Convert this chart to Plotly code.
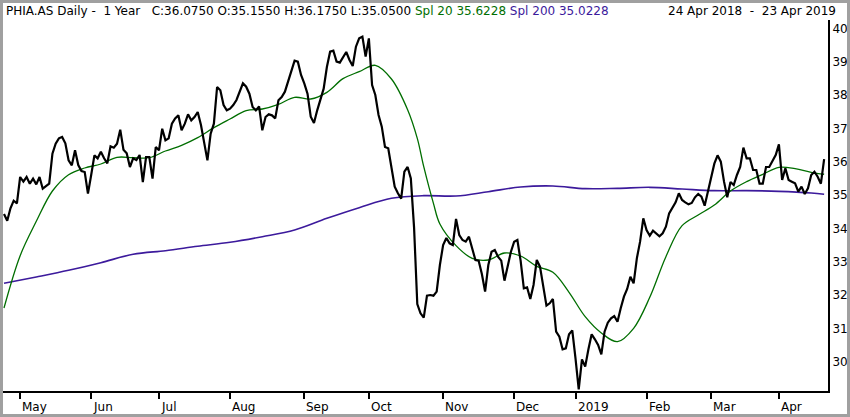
import pandas as pd
import plotly.graph_objects as go

# ---------------- data ----------------
HOLIDAYS = ["2018-05-01", "2018-12-25", "2018-12-26", "2019-01-01", "2019-04-19", "2019-04-22"]
dates = [d.strftime("%Y-%m-%d") for d in pd.bdate_range("2018-04-24", "2019-04-23")
         if d.strftime("%Y-%m-%d") not in HOLIDAYS]

close = [
    34.43, 34.23, 34.60, 34.83, 34.75, 35.54, 35.40, 35.54, 35.34, 35.49,
    35.32, 35.54, 35.19, 35.28, 35.34, 36.24, 36.54, 36.70, 36.74, 36.55,
    36.04, 35.89, 36.34, 35.90, 35.72, 35.69, 35.04, 35.60, 36.19, 36.10,
    36.30, 36.10, 35.95, 36.46, 36.42, 36.54, 36.96, 36.36, 36.25, 35.84,
    36.10, 36.05, 36.20, 35.39, 36.14, 36.14, 35.49, 36.44, 36.34, 36.99,
    36.64, 36.70, 37.14, 37.30, 37.39, 36.94, 37.14, 37.42, 37.24, 37.34,
    37.49, 37.10, 36.60, 36.04, 36.84, 37.14, 38.24, 38.14, 37.70, 37.54,
    37.59, 37.70, 37.85, 38.10, 38.35, 38.25, 38.04, 37.64, 37.54, 37.66,
    36.94, 37.34, 37.42, 37.39, 37.30, 37.84, 37.94, 38.10, 38.40, 38.75,
    39.03, 39.00, 38.60, 38.35, 38.04, 37.35, 37.16, 37.54, 37.84, 38.19,
    38.84, 39.30, 39.33, 39.00, 38.97, 39.15, 39.29, 39.05, 38.87, 39.45,
    39.70, 39.75, 39.15, 39.70, 38.30, 38.00, 37.40, 37.05, 36.44, 36.40,
    35.84, 35.25, 35.05, 34.89, 35.70, 35.84, 35.50, 34.03, 31.73, 31.45,
    31.32, 31.98, 32.00, 31.98, 32.10, 32.90, 33.50, 33.71, 33.55, 33.50,
    34.28, 33.80, 33.65, 33.60, 33.75, 33.40, 33.05, 33.03, 32.63, 32.10,
    32.90, 33.30, 33.35, 33.15, 33.03, 32.43, 32.90, 33.30, 33.60, 33.65,
    33.03, 32.20, 32.23, 31.88, 32.30, 33.05, 32.85, 32.30, 31.68, 31.75,
    31.88, 30.90, 30.75, 30.37, 30.40, 30.82, 30.94, 30.10, 29.17, 30.07,
    29.85, 30.37, 30.82, 30.67, 30.50, 30.22, 30.90, 31.17, 31.30, 31.37,
    31.20, 31.60, 31.95, 32.18, 32.55, 32.35, 33.10, 33.60, 34.30, 33.95,
    33.78, 33.93, 33.85, 33.76, 33.85, 34.05, 34.45, 34.62, 34.78, 35.05,
    34.85, 34.78, 34.72, 34.76, 34.93, 35.03, 34.95, 34.68, 35.10, 35.54,
    35.94, 36.19, 36.00, 35.40, 34.93, 35.39, 35.30, 35.60, 35.84, 36.42,
    36.10, 36.10, 35.75, 35.75, 35.34, 35.34, 35.84, 35.84, 36.00, 36.20,
    36.52, 35.45, 35.80, 35.45, 35.40, 35.35, 35.10, 35.25, 35.03, 35.20,
    35.60, 35.70, 35.55, 35.34, 36.075,
]

# 20-day average, read every 5 trading days (trading-day number)
sma20_day = [0, 5, 10, 15, 20, 25, 30, 35, 40, 45, 50, 55, 60, 65, 70, 75, 80, 85, 90, 95,
             100, 105, 110, 115, 120, 125, 128, 130, 133, 135, 140, 145, 150, 155, 160, 165,
             170, 175, 180, 185, 190, 195, 200, 205, 210, 215, 220, 225, 230, 235, 240, 245,
             250, 254]
sma20 = [31.61, 33.18, 34.21, 35.12, 35.61, 35.81, 35.93, 36.13, 36.12, 36.12, 36.32, 36.49,
         36.72, 37.02, 37.28, 37.53, 37.58, 37.72, 37.93, 37.88, 38.08, 38.49, 38.70, 38.89,
         38.48, 37.56, 36.70, 35.85, 34.75, 34.13, 33.48, 33.10, 33.05, 33.26, 33.17, 32.86,
         32.68, 32.08, 31.35, 30.86, 30.60, 31.00, 31.93, 33.15, 34.08, 34.40, 34.70, 35.12,
         35.40, 35.62, 35.83, 35.79, 35.68, 35.6228]

# 200-day average, read every 10 trading days
sma200_day = [0, 10, 20, 30, 40, 50, 60, 70, 80, 90, 100, 110, 120, 130, 140, 150, 160, 170,
              180, 190, 200, 210, 220, 230, 240, 250, 254]
sma200 = [32.35, 32.54, 32.74, 32.97, 33.22, 33.33, 33.46, 33.58, 33.75, 33.95, 34.30, 34.62,
          34.90, 34.98, 34.97, 35.10, 35.24, 35.27, 35.19, 35.20, 35.23, 35.18, 35.13, 35.13,
          35.11, 35.06, 35.0228]

tick_dates = ["2018-05-02", "2018-06-01", "2018-07-02", "2018-08-01", "2018-09-03", "2018-10-01",
              "2018-11-01", "2018-12-03", "2019-01-02", "2019-02-01", "2019-03-01", "2019-04-01"]
tick_labels = ["May", "Jun", "Jul", "Aug", "Sep", "Oct", "Nov", "Dec", "2019", "Feb", "Mar", "Apr"]
y_ticks = [30, 31, 32, 33, 34, 35, 36, 37, 38, 39, 40]

# ---------------- styling ----------------
W, H = 850, 417
ML, MR, MT, MB = 3, 22, 20, 26
PW, PH = W - ML - MR, H - MT - MB
FONT = "DejaVu Sans"
GREEN = "#006e00"
PURPLE = "#3c1a9c"


def px_x(p):
    return (p - ML) / PW


def px_y(p):
    return (H - MB - p) / PH


fig = go.Figure()
fig.add_trace(go.Scatter(x=[dates[i] for i in sma200_day], y=sma200, mode="lines",
                         line=dict(color=PURPLE, width=1.6, shape="spline"), hoverinfo="skip"))
fig.add_trace(go.Scatter(x=[dates[i] for i in sma20_day], y=sma20, mode="lines",
                         line=dict(color=GREEN, width=1.3, shape="spline"), hoverinfo="skip"))
fig.add_trace(go.Scatter(x=dates, y=close, mode="lines",
                         line=dict(color="black", width=2.2)))

fig.update_xaxes(type="category", categoryorder="array", categoryarray=dates,
                 range=[-0.31, 255.2], showgrid=False, zeroline=False,
                 showline=True, linecolor="black", linewidth=2,
                 tickmode="array", tickvals=tick_dates, ticktext=[""] * len(tick_dates),
                 ticks="outside", ticklen=6, tickwidth=2, tickcolor="black",
                 showticklabels=False)
fig.update_yaxes(side="right", range=[29.12, 40.25], showgrid=False, zeroline=False,
                 showline=True, linecolor="black", linewidth=2,
                 tickmode="array", tickvals=y_ticks, ticks="",
                 tickfont=dict(family=FONT, size=12, color="black"))

annotations = []
for d, lab in zip(tick_dates, tick_labels):
    annotations.append(dict(x=d, y=px_y(407), xref="x", yref="paper", text=lab,
                            showarrow=False, xanchor="left", yanchor="middle", xshift=0,
                            font=dict(family=FONT, size=12, color="black")))

NB = "\u00a0"
title = ("PHIA.AS Daily -" + NB * 2 + "1 Year" + NB * 3 +
         "C:36.0750 O:35.1550 H:36.1750 L:35.0500 "
         f"<span style='color:{GREEN}'>Spl 20 35.6228</span> "
         f"<span style='color:{PURPLE}'>Spl 200 35.0228</span>")
annotations.append(dict(x=px_x(4), y=px_y(11), xref="paper", yref="paper", text=title,
                        showarrow=False, xanchor="left", yanchor="middle",
                        font=dict(family=FONT, size=12, color="black")))
annotations.append(dict(x=px_x(838), y=px_y(11), xref="paper", yref="paper",
                        text="24 Apr 2018" + NB * 2 + "-" + NB * 2 + "23 Apr 2019",
                        showarrow=False, xanchor="right", yanchor="middle",
                        font=dict(family=FONT, size=12, color="black")))

shapes = [dict(type="rect", xref="paper", yref="paper",
               x0=px_x(1.5), x1=px_x(848.5), y0=px_y(415.5), y1=px_y(1.5),
               line=dict(color="#a0a0a0", width=3), fillcolor="rgba(0,0,0,0)", layer="above")]

fig.update_layout(width=W, height=H, autosize=False,
                  margin=dict(l=ML, r=MR, t=MT, b=MB, pad=0),
                  paper_bgcolor="white", plot_bgcolor="white",
                  showlegend=False, annotations=annotations, shapes=shapes,
                  font=dict(family=FONT, size=12, color="black"))

fig.write_html("out.html", config={"displayModeBar": False},
               post_script="document.body.style.margin='0';document.body.style.overflow='hidden';")
